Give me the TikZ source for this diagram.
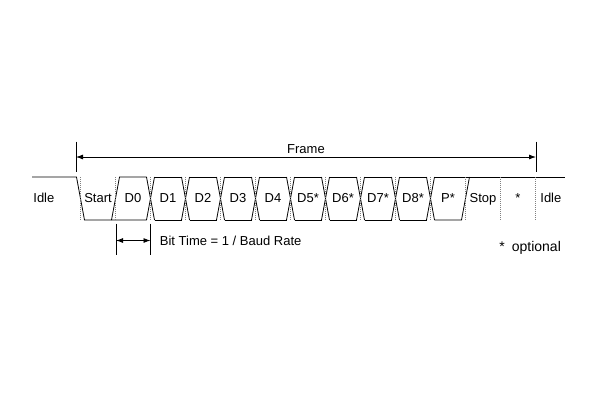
\documentclass[tikz,border=0pt]{standalone}
\usepackage{fontspec}
\setmainfont{Liberation Sans}
\usetikzlibrary{arrows.meta, positioning}

\begin{document}
\begin{tikzpicture}[x=1pt, y=-1pt, line width=0.8pt, font=\fontsize{13}{15}\selectfont,
    mid/.style={gray, line width=0.6pt, dash pattern=on 0.8pt off 1.2pt},
    span/.style={{Latex[length=7pt,width=5pt]}-{Latex[length=7pt,width=5pt]}}]
    \useasboundingbox (0,0) rectangle (600,400);

    % waveform
    \draw (32,177) -- (76.5,177) -- (84.5,220) -- (146.5,220);
    \draw (111.5,220) -- (119.5,177) -- (146.5,177);
    \foreach \k [evaluate=\k as \b using 80.5+35*\k] in {2,...,10} {
        \draw (\b-4,177) -- (\b+4,220);
        \draw (\b-4,220) -- (\b+4,177);
    }
    \foreach \k [evaluate=\k as \b using 80.5+35*\k] in {2,...,9} {
        \draw (\b+4,177) -- (\b+31,177);
        \draw (\b+4,220) -- (\b+31,220);
    }
    \draw (434.5,177) -- (565,177);
    \draw (434.5,220) -- (461.5,220) -- (469.5,177);
    \foreach \k [evaluate=\k as \b using 80.5+35*\k] in {0,...,13}
        \draw [mid] (\b,177) -- (\b,220);

    % bit names
    \foreach \t [count=\i from 0] in {Start,D0,D1,D2,D3,D4,D5*,D6*,D7*,D8*,P*,Stop,*}
        \node (bit\i) [anchor=base] at (98+35*\i,202.5) {\t};
    \node (idleL) [anchor=base west, inner sep=0] at (33,202.5) {Idle};
    \node (idleR) [anchor=base west, inner sep=0] at (540,202.5) {Idle};

    % frame
    \coordinate (frameL) at (76,157);
    \coordinate (frameR) at (536,157);
    \draw (76,141.5) -- (76,171.5);
    \draw (536,141.5) -- (536,171.5);
    \path (frameL) [span] edge node (frame) [above] {Frame} (frameR);

    % bit time
    \coordinate (bitL) at (116,240.5);
    \coordinate (bitR) at (150.5,240.5);
    \draw (116,223.5) -- (116,255);
    \draw (150.5,223.5) -- (150.5,255);
    \path (bitL) [span] edge (bitR);
    \node (bittime) [right=9pt of bitR, inner sep=0] {Bit Time = 1 / Baud Rate};

    \node (optional) [anchor=base west, inner sep=0, font=\fontsize{14}{16}\selectfont]
        at (499,251.5) {*\hspace{7pt}optional};
\end{tikzpicture}
\end{document}
